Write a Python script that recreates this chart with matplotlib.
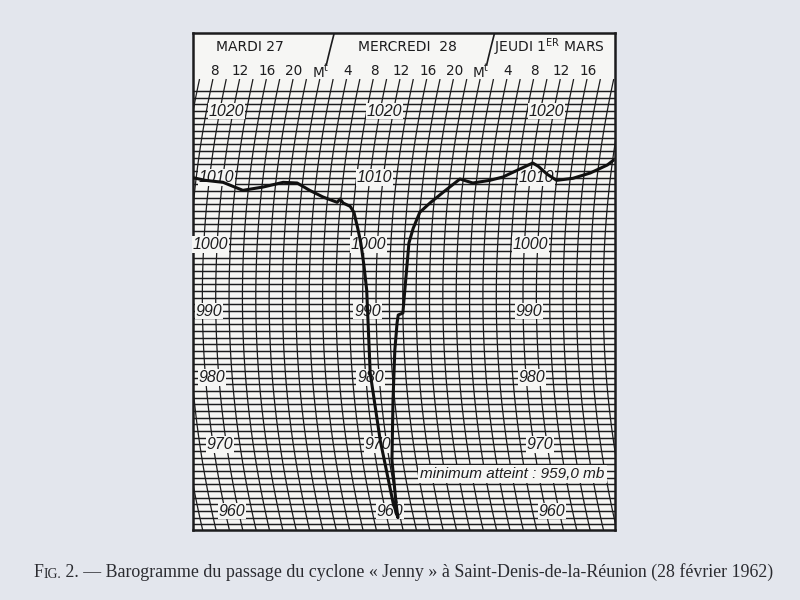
import numpy as np
import matplotlib
matplotlib.use("Agg")
import matplotlib.pyplot as plt

# ---------------- data ----------------
# time in hours counted from Tuesday 27 Feb, 00h ; pressure in mb
hours = [7.5, 9.4, 12.1, 15.2, 18.2, 21.1, 23.2, 25.2, 27.3, 29.5,
         29.9, 30.4, 31.5, 32.15, 32.4, 32.9, 33.5, 34.1, 34.6, 34.7,
         35.1, 35.4, 35.65, 35.8, 36.4, 37.75, 38.6, 39.1, 39.3, 40.0,
         40.3, 40.7, 41.2, 42.0, 43.4, 45.2, 47.5, 49.5, 52.0, 53.9,
         55.9, 58.1, 59.0, 60.5, 62.0, 64.4, 66.9, 69.3, 70.1]
pressure = [1010.0, 1009.6, 1009.3, 1008.1, 1008.6, 1009.3, 1009.2, 1008.1, 1007.1, 1006.3,
            1006.8, 1006.2, 1005.7, 1004.8, 1004.0, 1002.4, 1000.2, 996.9, 993.1, 980.7,
            970.6, 961.2, 959.0, 960.9, 967.6, 976.6, 984.1, 988.2, 989.4, 989.7,
            993.1, 1000.2, 1002.4, 1004.8, 1006.2, 1007.8, 1009.8, 1009.2, 1009.6, 1010.1,
            1011.1, 1012.2, 1011.7, 1010.5, 1009.6, 1009.9, 1010.7, 1011.9, 1012.6]

day_labels = ["MARDI 27", "MERCREDI  28", r"JEUDI 1$^{\mathregular{ER}}$ MARS"]
hour_ticks = [8, 12, 16, 20, 24, 28, 32, 36, 40, 44, 48, 52, 56, 60, 64]
hour_labels = ["8", "12", "16", "20", r"M$^{\mathregular{t}}$", "4", "8", "12", "16", "20",
               r"M$^{\mathregular{t}}$", "4", "8", "12", "16"]
midnights = [24, 48]
pressure_labels = [960, 970, 980, 990, 1000, 1010, 1020]
minimum_value = 959.0
caption_small = ("F", "IG.")
caption_rest = " 2. — Barogramme du passage du cyclone « Jenny » à Saint-Denis-de-la-Réunion (28 février 1962)"

# ---------------- chart geometry ----------------
K, P0 = 0.00333, 992.0          # pen-arm arc of the barograph chart


def arc(t, p):
    return np.asarray(t, dtype=float) + K * (np.asarray(p, dtype=float) - P0) ** 2


XMIN, XMAX = 8.60, 71.77
YMIN, YMAX = 957.15, 1031.7
GRID_TOP = 1024.7
INK = "#1c1c1e"
PAPER = "#f6f6f4"

fig = plt.figure(figsize=(8, 6), dpi=100)
fig.patch.set_facecolor("#e3e6ed")
ax = fig.add_axes([193 / 800, 1 - 530 / 600, 422 / 800, 497 / 600])
ax.set_xlim(XMIN, XMAX)
ax.set_ylim(YMIN, YMAX)
ax.set_facecolor(PAPER)
ax.set_xticks([])
ax.set_yticks([])
for s in ax.spines.values():
    s.set_linewidth(1.8)
    s.set_color(INK)

# horizontal pressure lines, every mb
for p in range(958, 1024):
    ax.plot([XMIN, XMAX], [p, p], color=INK, lw=1.05, zorder=1)

# curved time lines, every 2 hours
yy = np.linspace(YMIN, GRID_TOP, 120)
for t in np.arange(0, 76, 2):
    ax.plot(arc(t, yy), yy, color=INK, lw=0.9, zorder=1)

# day separators in the header
yd = np.linspace(1027.0, YMAX, 30)
for m in midnights:
    ax.plot(arc(m + 0.5, yd), yd, color=INK, lw=1.2, zorder=1)

# hour labels
for t, lab in zip(hour_ticks, hour_labels):
    ax.text(arc(t, 1025.5), 1025.95, lab, ha="center", va="center",
            fontsize=9.8, family="DejaVu Sans", color=INK, zorder=3)

# day labels
for xf, lab in zip([0.135, 0.507, 0.844], day_labels):
    ax.text(xf, 0.972, lab, transform=ax.transAxes, ha="center", va="center",
            fontsize=10, family="DejaVu Sans", color=INK, zorder=3)

# pressure labels in three columns
for tcol in [11.0, 34.7, 58.9]:
    for p in pressure_labels:
        ax.text(arc(tcol, p), p, str(p), ha="center", va="center",
                fontsize=11.5, style="italic", family="Liberation Sans", color=INK,
                bbox=dict(facecolor=PAPER, edgecolor="none", pad=0.6), zorder=3)

# barograph trace
ax.plot(arc(hours, pressure), pressure, color="#111111", lw=2.2,
        solid_joinstyle="round", solid_capstyle="round", zorder=5)

# minimum annotation
txt = "minimum atteint : " + f"{minimum_value:.1f}".replace(".", ",") + " mb"
ax.text(56.4, 965.55, txt, ha="center", va="center", fontsize=11, style="italic",
        family="Liberation Sans", color=INK,
        bbox=dict(facecolor=PAPER, edgecolor="none", pad=1.5), zorder=4)

# caption
c1 = fig.text(33 / 800, 0.031, caption_small[0], fontsize=12.9, family="Liberation Serif",
              color="#2a2b30", va="bottom", ha="left")
c2 = plt.annotate(caption_small[1], xy=(1, 0), xycoords=c1, xytext=(0.3, 0),
                  textcoords="offset points", fontsize=9.9, family="Liberation Serif",
                  color="#2a2b30", va="bottom", ha="left", annotation_clip=False)
c3 = plt.annotate(caption_rest, xy=(1, 0), xycoords=c2, xytext=(0, 0),
                  textcoords="offset points", fontsize=12.9, family="Liberation Serif",
                  color="#2a2b30", va="bottom", ha="left", annotation_clip=False)

fig.savefig("out.png", dpi=100, facecolor=fig.get_facecolor())
